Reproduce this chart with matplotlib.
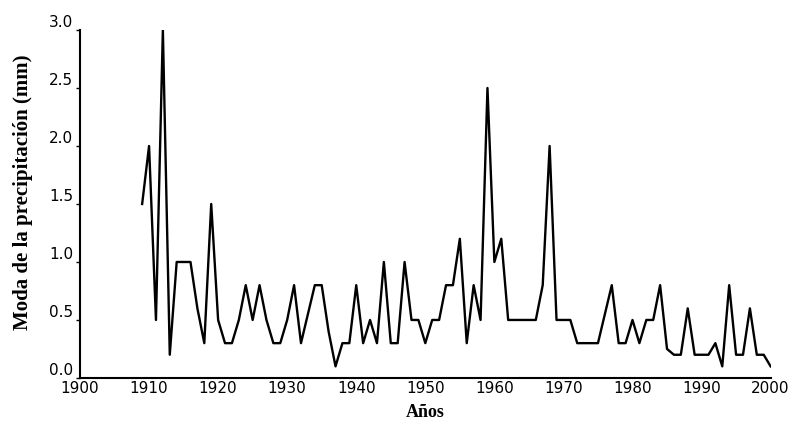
import numpy as np
import matplotlib.pyplot as plt

# annual precipitation mode (mm)
years = list(range(1909, 2001))
moda = [1.5, 2.0, 0.5, 3.0, 0.2, 1.0, 1.0, 1.0, 0.6, 0.3,   # 1909-1918
        1.5, 0.5, 0.3, 0.3, 0.5, 0.8, 0.5, 0.8, 0.5, 0.3,   # 1919-1928
        0.3, 0.5, 0.8, 0.3, 0.55, 0.8, 0.8, 0.4, 0.1, 0.3,  # 1929-1938
        0.3, 0.8, 0.3, 0.5, 0.3, 1.0, 0.3, 0.3, 1.0, 0.5,   # 1939-1948
        0.5, 0.3, 0.5, 0.5, 0.8, 0.8, 1.2, 0.3, 0.8, 0.5,   # 1949-1958
        2.5, 1.0, 1.2, 0.5, 0.5, 0.5, 0.5, 0.5, 0.8, 2.0,   # 1959-1968
        0.5, 0.5, 0.5, 0.3, 0.3, 0.3, 0.3, 0.55, 0.8, 0.3,  # 1969-1978
        0.3, 0.5, 0.3, 0.5, 0.5, 0.8, 0.25, 0.2, 0.2, 0.6,  # 1979-1988
        0.2, 0.2, 0.2, 0.3, 0.1, 0.8, 0.2, 0.2, 0.6, 0.2,   # 1989-1998
        0.2, 0.1]                                           # 1999-2000

xticks = list(range(1900, 2001, 10))
yticks = [0.0, 0.5, 1.0, 1.5, 2.0, 2.5, 3.0]

fig = plt.figure(figsize=(7.92, 4.29), dpi=100)
ax = fig.add_axes([0.101, 0.119, 0.872, 0.811])

ax.plot(years, moda, color='black', linewidth=1.7)

ax.set_xlim(1900, 2000)
ax.set_ylim(0, 3.0)
ax.set_xticks(xticks)
ax.set_yticks(yticks)
ax.set_yticklabels([f"{v:.1f}" for v in yticks])
ax.tick_params(axis='both', labelsize=11, length=3, width=1, direction='out')
ax.tick_params(axis='x', length=0, pad=2)
ax.tick_params(axis='y', pad=2)
# labels sit just above their tick, as in the original
for lab in ax.get_yticklabels():
    lab.set_verticalalignment('bottom')

for s in ['top', 'right']:
    ax.spines[s].set_visible(False)
for s in ['left', 'bottom']:
    ax.spines[s].set_linewidth(1.5)

ax.set_xlabel('Años', family='Liberation Serif', fontweight='bold', fontsize=13, labelpad=6)
ax.set_ylabel('Moda de la precipitación (mm)', family='Liberation Serif',
              fontweight='bold', fontsize=15)
ax.yaxis.set_label_coords(-0.068, 0.535)

fig.savefig('out.png', dpi=100)
